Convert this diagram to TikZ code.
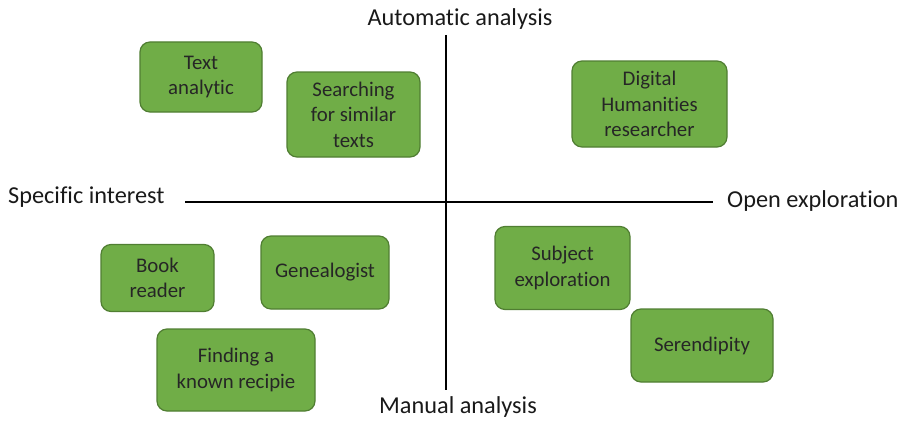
\documentclass[tikz,border=0pt]{standalone}
\usepackage{fontspec}
\setmainfont{Carlito}[Ligatures={NoCommon}]
\begin{document}
\begin{tikzpicture}[x=1pt,y=-1pt,
  box/.style={draw=boxedge,fill=boxgreen,line width=1.2pt,rounded corners=10pt,inner sep=0pt,align=center,font=\fontsize{20.8}{25.5}\selectfont,text=black!85},
  axislabel/.style={font=\fontsize{24.3}{28}\selectfont,text=black!90,inner sep=0pt},
  axis/.style={line width=1.6pt,black}]
\definecolor{boxgreen}{HTML}{70AD47}
\definecolor{boxedge}{HTML}{507E32}
\useasboundingbox (0,0) rectangle (901,420);
% axes
\coordinate (vtop) at (446,35);
\coordinate (vbot) at (446,390);
\coordinate (hleft) at (185,202);
\coordinate (hright) at (713,202);
\draw[axis] (vtop) -- (vbot);
\draw[axis] (hleft) -- (hright);
\node[axislabel] (auto) at (460,19) {Automatic analysis};
\node[axislabel] (manual) at (458,407) {Manual analysis};
\node[axislabel,anchor=west] (spec) at (8,197) {Specific interest};
\node[axislabel,anchor=west] (open) at (727,201) {Open exploration};
% boxes
\node[box,minimum width=122pt,minimum height=70pt] (ta) at (201,77) {Text\\analytic};
\node[box,minimum width=133pt,minimum height=85pt] (ss) at (353.5,114.5) {Searching\\for similar\\texts};
\node[box,minimum width=155pt,minimum height=86pt] (dh) at (649.5,104) {Digital\\Humanities\\researcher};
\node[box,minimum width=113pt,minimum height=67pt] (br) at (157.5,278) {Book\\reader};
\node[box,minimum width=128pt,minimum height=73pt] (ge) at (325,272.5) {Genealogist};
\node[box,minimum width=135pt,minimum height=83pt] (se) at (562.5,268) {Subject\\exploration};
\node[box,minimum width=142pt,minimum height=73pt] (sr) at (702,345.5) {Serendipity};
\node[box,minimum width=158pt,minimum height=82pt] (fr) at (236,370) {Finding a\\known recipie};
\end{tikzpicture}
\end{document}
